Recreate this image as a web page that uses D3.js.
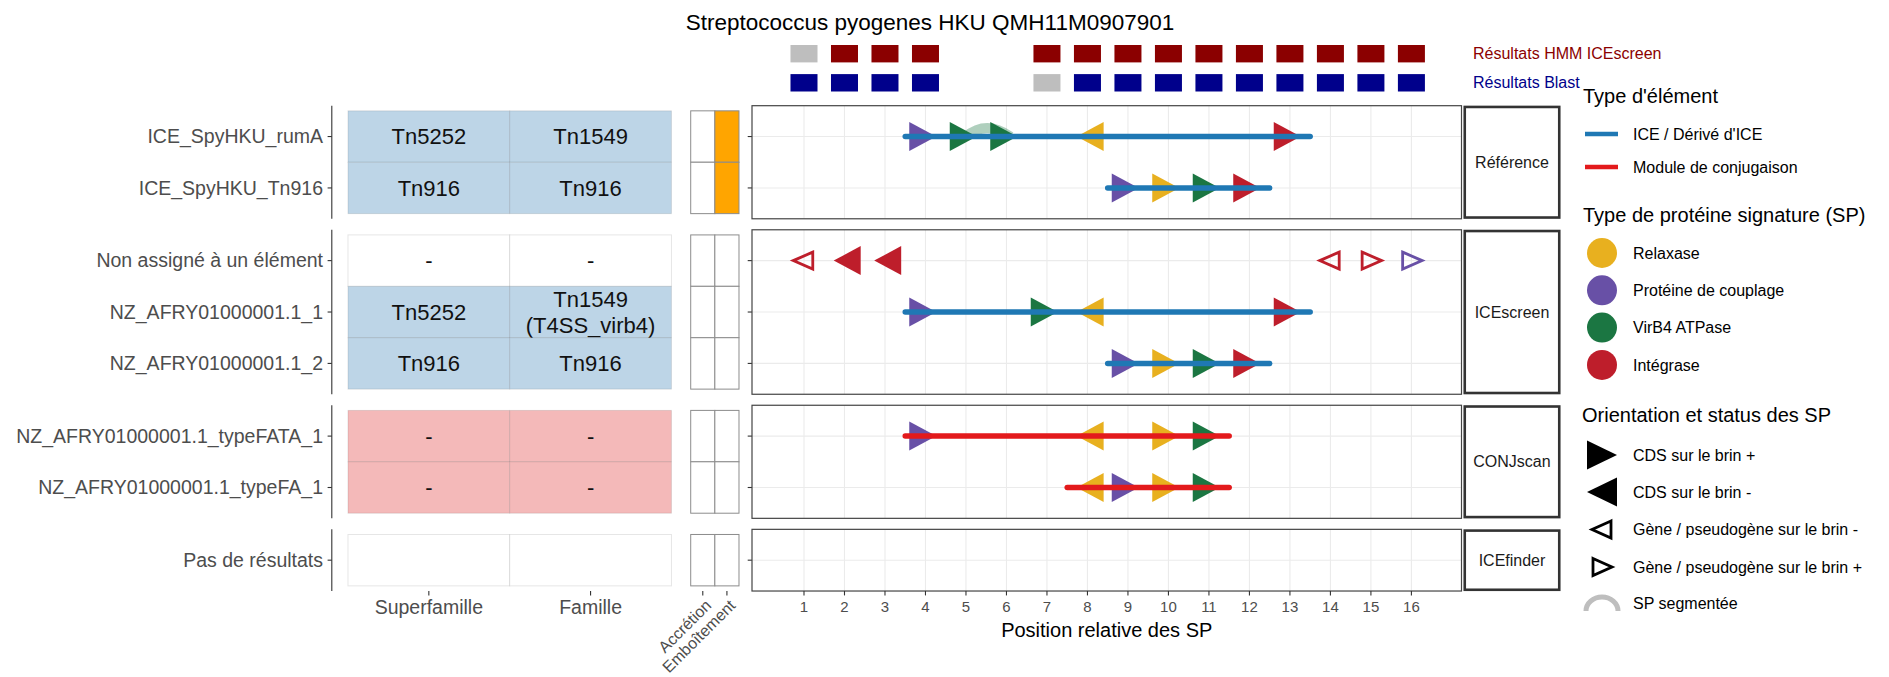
<!DOCTYPE html>
<html>
<head>
<meta charset="utf-8">
<script src="https://cdn.jsdelivr.net/npm/d3@7"></script>
<style>
  html, body { margin: 0; padding: 0; background: #ffffff; }
  svg { display: block; }
</style>
</head>
<body>
<script>
// ---------------- DATA ----------------
const chartTitle = "Streptococcus pyogenes HKU QMH11M0907901";
const facets = ["Référence", "ICEscreen", "CONJscan", "ICEfinder"];
const rowNames = ["ICE_SpyHKU_rumA", "ICE_SpyHKU_Tn916", "Non assigné à un élément",
  "NZ_AFRY01000001.1_1", "NZ_AFRY01000001.1_2",
  "NZ_AFRY01000001.1_typeFATA_1", "NZ_AFRY01000001.1_typeFA_1", "Pas de résultats"];
const rowFacet = ["Référence", "Référence", "ICEscreen", "ICEscreen", "ICEscreen",
  "CONJscan", "CONJscan", "ICEfinder"];
const rowKind = ["ref", "ref", "none", "ref", "ref", "conj", "conj", "none"];
const superfamille = ["Tn5252", "Tn916", "-", "Tn5252", "Tn916", "-", "-", ""];
const famille = ["Tn1549", "Tn916", "-", "Tn1549\n(T4SS_virb4)", "Tn916", "-", "-", ""];
const tableCols = ["Superfamille", "Famille"];
const flagCols = ["Accrétion", "Emboîtement"];
const accretion = [0, 0, 0, 0, 0, 0, 0, 0];
const emboitement = [1, 1, 0, 0, 0, 0, 0, 0];

// signature proteins
const spRow = [
  "ICE_SpyHKU_rumA", "ICE_SpyHKU_rumA", "ICE_SpyHKU_rumA", "ICE_SpyHKU_rumA", "ICE_SpyHKU_rumA",
  "ICE_SpyHKU_Tn916", "ICE_SpyHKU_Tn916", "ICE_SpyHKU_Tn916", "ICE_SpyHKU_Tn916",
  "Non assigné à un élément", "Non assigné à un élément", "Non assigné à un élément",
  "Non assigné à un élément", "Non assigné à un élément", "Non assigné à un élément",
  "NZ_AFRY01000001.1_1", "NZ_AFRY01000001.1_1", "NZ_AFRY01000001.1_1", "NZ_AFRY01000001.1_1",
  "NZ_AFRY01000001.1_2", "NZ_AFRY01000001.1_2", "NZ_AFRY01000001.1_2", "NZ_AFRY01000001.1_2",
  "NZ_AFRY01000001.1_typeFATA_1", "NZ_AFRY01000001.1_typeFATA_1", "NZ_AFRY01000001.1_typeFATA_1", "NZ_AFRY01000001.1_typeFATA_1",
  "NZ_AFRY01000001.1_typeFA_1", "NZ_AFRY01000001.1_typeFA_1", "NZ_AFRY01000001.1_typeFA_1", "NZ_AFRY01000001.1_typeFA_1"];
const spPos = [4, 5, 6, 8, 13,
  9, 10, 11, 12,
  1, 2, 3, 14, 15, 16,
  4, 7, 8, 13,
  9, 10, 11, 12,
  4, 8, 10, 11,
  8, 9, 10, 11];
const spType = ["Protéine de couplage", "VirB4 ATPase", "VirB4 ATPase", "Relaxase", "Intégrase",
  "Protéine de couplage", "Relaxase", "VirB4 ATPase", "Intégrase",
  "Intégrase", "Intégrase", "Intégrase", "Intégrase", "Intégrase", "Protéine de couplage",
  "Protéine de couplage", "VirB4 ATPase", "Relaxase", "Intégrase",
  "Protéine de couplage", "Relaxase", "VirB4 ATPase", "Intégrase",
  "Protéine de couplage", "Relaxase", "Relaxase", "VirB4 ATPase",
  "Relaxase", "Protéine de couplage", "Relaxase", "VirB4 ATPase"];
const spStrand = ["+", "+", "+", "-", "+",
  "+", "+", "+", "+",
  "-", "-", "-", "-", "+", "+",
  "+", "+", "-", "+",
  "+", "+", "+", "+",
  "+", "-", "+", "+",
  "-", "+", "+", "+"];
const spPseudo = [0, 0, 0, 0, 0,
  0, 0, 0, 0,
  1, 0, 0, 1, 1, 1,
  0, 0, 0, 0,
  0, 0, 0, 0,
  0, 0, 0, 0,
  0, 0, 0, 0];

// segmented SP
const segRow = ["ICE_SpyHKU_rumA"];
const segFrom = [5];
const segTo = [6];
const segType = ["VirB4 ATPase"];

// elements
const elRow = ["ICE_SpyHKU_rumA", "ICE_SpyHKU_Tn916", "NZ_AFRY01000001.1_1", "NZ_AFRY01000001.1_2",
  "NZ_AFRY01000001.1_typeFATA_1", "NZ_AFRY01000001.1_typeFA_1"];
const elStart = [3.5, 8.5, 3.5, 8.5, 3.5, 7.5];
const elEnd = [13.5, 12.5, 13.5, 12.5, 11.5, 11.5];
const elType = ["ICE / Dérivé d'ICE", "ICE / Dérivé d'ICE", "ICE / Dérivé d'ICE", "ICE / Dérivé d'ICE",
  "Module de conjugaison", "Module de conjugaison"];

// top results squares
const sqPos = [1, 2, 3, 4, 7, 8, 9, 10, 11, 12, 13, 14, 15, 16];
const hmmHit = [0, 1, 1, 1, 1, 1, 1, 1, 1, 1, 1, 1, 1, 1];
const blastHit = [1, 1, 1, 1, 0, 1, 1, 1, 1, 1, 1, 1, 1, 1];
const resultLabels = ["Résultats HMM ICEscreen", "Résultats Blast"];

const xTicks = [1, 2, 3, 4, 5, 6, 7, 8, 9, 10, 11, 12, 13, 14, 15, 16];
const xTitle = "Position relative des SP";

const elementTypes = ["ICE / Dérivé d'ICE", "Module de conjugaison"];
const spTypes = ["Relaxase", "Protéine de couplage", "VirB4 ATPase", "Intégrase"];
const orientLabels = ["CDS sur le brin +", "CDS sur le brin -", "Gène / pseudogène sur le brin -",
  "Gène / pseudogène sur le brin +", "SP segmentée"];
const legendTitles = ["Type d'élément", "Type de protéine signature (SP)", "Orientation et status des SP"];

// ---------------- STYLE ----------------
const elColor = d3.scaleOrdinal().domain(elementTypes).range(["#1F78B4", "#E31A1C"]);
const spColor = d3.scaleOrdinal().domain(spTypes).range(["#E8B01F", "#6850A6", "#1B7642", "#BE1E2B"]);
const kindFill = { ref: "#BDD5E7", conj: "#F4B9B9", none: "#FFFFFF" };
const FONT = "'Liberation Sans', Arial, Helvetica, sans-serif";

const W = 1889, H = 677;
const svg = d3.select("body").append("svg")
  .attr("width", W).attr("height", H)
  .style("font-family", FONT);

// scales
const x = d3.scaleLinear().domain([-0.284, 17.237]).range([752, 1461.5]);
const colX = d3.scaleBand().domain(tableCols).range([331.8, 687.6]).paddingInner(0).paddingOuter(0.1);
const flagX = d3.scaleBand().domain(flagCols).range([688.3, 741.4]).paddingInner(0).paddingOuter(0.1);

const u = 51.4, gap = 11;
let cursor = 105.7;
const yScales = {}, fTop = {}, fBot = {};
facets.forEach(f => {
  const rows = rowNames.filter((r, i) => rowFacet[i] === f);
  const h = (rows.length + 0.2) * u;
  yScales[f] = d3.scalePoint().domain(rows).range([cursor, cursor + h]).padding(0.6);
  fTop[f] = cursor; fBot[f] = cursor + h;
  cursor += h + gap;
});
const rowY = r => yScales[rowFacet[rowNames.indexOf(r)]](r);
const lastFacet = facets[facets.length - 1];
const bottomY = fBot[lastFacet];

// ---------------- TITLE ----------------
svg.append("text").attr("x", 930).attr("y", 22).attr("dy", "0.35em")
  .attr("text-anchor", "middle").attr("font-size", 22.5).attr("fill", "#000")
  .text(chartTitle);

// ---------------- TOP SQUARES ----------------
const sqW = 0.667 * (x(2) - x(1)), sqH = 17.4;
const sqRowsY = [53.7, 82.8];
const sqData = [hmmHit, blastHit];
const sqColors = ["#8B0000", "#00008B"];
sqData.forEach((hits, k) => {
  svg.append("g").selectAll("rect").data(sqPos).join("rect")
    .attr("x", d => x(d) - sqW / 2).attr("y", sqRowsY[k] - sqH / 2)
    .attr("width", sqW).attr("height", sqH)
    .attr("fill", (d, i) => hits[i] ? sqColors[k] : "#BEBEBE");
  svg.append("text").attr("x", 1473).attr("y", sqRowsY[k]).attr("dy", "0.35em")
    .attr("font-size", 16).attr("fill", sqColors[k]).text(resultLabels[k]);
});

// ---------------- TABLE (left) ----------------
const gTable = svg.append("g");
facets.forEach(f => {
  // axis line
  gTable.append("line").attr("x1", 331.8).attr("x2", 331.8)
    .attr("y1", fTop[f]).attr("y2", fBot[f]).attr("stroke", "#333").attr("stroke-width", 1.1);
});
rowNames.forEach((r, i) => {
  const yc = rowY(r);
  gTable.append("line").attr("x1", 327.6).attr("x2", 331.8).attr("y1", yc).attr("y2", yc)
    .attr("stroke", "#333").attr("stroke-width", 1.1);
  gTable.append("text").attr("x", 323).attr("y", yc).attr("dy", "0.35em")
    .attr("text-anchor", "end").attr("font-size", 19.5).attr("fill", "#4D4D4D").text(r);
  const vals = [superfamille[i], famille[i]];
  tableCols.forEach((c, j) => {
    gTable.append("rect").attr("x", colX(c)).attr("y", yc - u / 2)
      .attr("width", colX.bandwidth()).attr("height", u)
      .attr("fill", kindFill[rowKind[i]]).attr("stroke", "rgba(0,0,0,0.1)").attr("stroke-width", 1);
  });
  tableCols.forEach((c, j) => {
    const lines = vals[j].split("\n");
    const t = gTable.append("text").attr("text-anchor", "middle").attr("font-size", 22)
      .attr("fill", "#111");
    lines.forEach((ln, k) => {
      t.append("tspan").attr("x", colX(c) + colX.bandwidth() / 2)
        .attr("y", yc + (k - (lines.length - 1) / 2) * 25.7).attr("dy", "0.35em").text(ln);
    });
  });
  // flags
  const flags = [accretion[i], emboitement[i]];
  flagCols.forEach((c, j) => {
    gTable.append("rect").attr("x", flagX(c)).attr("y", yc - u / 2)
      .attr("width", flagX.bandwidth()).attr("height", u)
      .attr("fill", flags[j] ? "#FFA500" : "#FFFFFF").attr("stroke", "#8C8C8C").attr("stroke-width", 1);
  });
});
// table x axis
tableCols.forEach(c => {
  const cx = colX(c) + colX.bandwidth() / 2;
  gTable.append("line").attr("x1", cx).attr("x2", cx).attr("y1", bottomY).attr("y2", bottomY + 4.4)
    .attr("stroke", "#333").attr("stroke-width", 1.1);
  gTable.append("text").attr("x", cx).attr("y", 607).attr("dy", "0.35em")
    .attr("text-anchor", "middle").attr("font-size", 19.5).attr("fill", "#4D4D4D").text(c);
});
flagCols.forEach(c => {
  const cx = flagX(c) + flagX.bandwidth() / 2;
  gTable.append("line").attr("x1", cx).attr("x2", cx).attr("y1", bottomY).attr("y2", bottomY + 4.4)
    .attr("stroke", "#333").attr("stroke-width", 1.1);
  gTable.append("text").attr("transform", `translate(${cx + 1},${bottomY + 7}) rotate(-45)`)
    .attr("text-anchor", "end").attr("dy", "0.75em").attr("font-size", 16).attr("fill", "#4D4D4D").text(c);
});

// ---------------- MAIN PANELS ----------------
const gMain = svg.append("g");
facets.forEach(f => {
  const ys = yScales[f];
  const g = gMain.append("g");
  g.append("rect").attr("x", x.range()[0]).attr("y", fTop[f])
    .attr("width", x.range()[1] - x.range()[0]).attr("height", fBot[f] - fTop[f]).attr("fill", "#fff");
  g.selectAll("line.vg").data(xTicks).join("line")
    .attr("x1", d => x(d)).attr("x2", d => x(d)).attr("y1", fTop[f]).attr("y2", fBot[f])
    .attr("stroke", "#EBEBEB").attr("stroke-width", 1.1);
  g.selectAll("line.hg").data(ys.domain()).join("line")
    .attr("x1", x.range()[0]).attr("x2", x.range()[1]).attr("y1", d => ys(d)).attr("y2", d => ys(d))
    .attr("stroke", "#EBEBEB").attr("stroke-width", 1.1);
  // y ticks
  g.selectAll("line.yt").data(ys.domain()).join("line")
    .attr("x1", x.range()[0] - 4.3).attr("x2", x.range()[0]).attr("y1", d => ys(d)).attr("y2", d => ys(d))
    .attr("stroke", "#333").attr("stroke-width", 1.1);
  // strip
  g.append("rect").attr("x", 1464.75).attr("y", fTop[f] + 1.25).attr("width", 94.5)
    .attr("height", fBot[f] - fTop[f] - 2.5).attr("fill", "#fff")
    .attr("stroke", "#333").attr("stroke-width", 2.6);
  g.append("text").attr("x", 1512).attr("y", (fTop[f] + fBot[f]) / 2).attr("dy", "0.35em")
    .attr("text-anchor", "middle").attr("font-size", 16).attr("fill", "#1A1A1A").text(f);
});

// segmented arcs
const gArc = gMain.append("g");
segRow.forEach((r, i) => {
  const yc = rowY(r), x0 = x(segFrom[i]), x1 = x(segTo[i]);
  gArc.append("path")
    .attr("d", `M${x0},${yc} Q${(x0 + x1) / 2},${yc - 17} ${x1 + 4},${yc}`)
    .attr("fill", "none").attr("stroke", spColor(segType[i])).attr("stroke-opacity", 0.35)
    .attr("stroke-width", 10);
});

// triangles
function triFilled(dir, w, h) {
  // point located at 60% from base to tip
  const b = -0.6 * w * dir, t = 0.4 * w * dir;
  return `M${b},${-h / 2} L${t},0 L${b},${h / 2} Z`;
}
function triOpen(dir, w, h) {
  const b = -0.45 * w * dir, t = 0.55 * w * dir;
  return `M${b},${-h / 2} L${t},0 L${b},${h / 2} Z`;
}
const gSP = gMain.append("g");
spPos.forEach((p, i) => {
  const dir = spStrand[i] === "+" ? 1 : -1;
  const col = spColor(spType[i]);
  const path = gSP.append("path")
    .attr("transform", `translate(${x(p)},${rowY(spRow[i])})`);
  if (spPseudo[i]) {
    path.attr("d", triOpen(dir, 19.5, 17)).attr("fill", "none").attr("stroke", col)
      .attr("stroke-width", 2.8).attr("stroke-linejoin", "miter");
  } else {
    path.attr("d", triFilled(dir, 27, 29)).attr("fill", col);
  }
});

// element segments (on top)
const gEl = gMain.append("g");
elRow.forEach((r, i) => {
  const yc = rowY(r);
  gEl.append("line").attr("x1", x(elStart[i])).attr("x2", x(elEnd[i]))
    .attr("y1", yc).attr("y2", yc).attr("stroke", elColor(elType[i]))
    .attr("stroke-width", 5.5).attr("stroke-linecap", "round");
});

// panel borders
facets.forEach(f => {
  gMain.append("rect").attr("x", x.range()[0]).attr("y", fTop[f])
    .attr("width", x.range()[1] - x.range()[0]).attr("height", fBot[f] - fTop[f])
    .attr("fill", "none").attr("stroke", "#444").attr("stroke-width", 1.2);
});

// x axis
const gX = svg.append("g");
gX.selectAll("line").data(xTicks).join("line")
  .attr("x1", d => x(d)).attr("x2", d => x(d)).attr("y1", bottomY).attr("y2", bottomY + 4.4)
  .attr("stroke", "#333").attr("stroke-width", 1.1);
gX.selectAll("text").data(xTicks).join("text")
  .attr("x", d => x(d)).attr("y", 607).attr("dy", "0.35em").attr("text-anchor", "middle")
  .attr("font-size", 15).attr("fill", "#4D4D4D").text(d => d);
svg.append("text").attr("x", (x.range()[0] + x.range()[1]) / 2).attr("y", 630).attr("dy", "0.35em")
  .attr("text-anchor", "middle").attr("font-size", 20).attr("fill", "#000").text(xTitle);

// ---------------- LEGEND ----------------
const gL = svg.append("g");
const LX = 1583, KX = 1602, TX = 1633;
gL.append("text").attr("x", LX).attr("y", 96).attr("dy", "0.35em").attr("font-size", 20).text(legendTitles[0]);
elementTypes.forEach((e, i) => {
  const yc = 134 + i * 33;
  gL.append("line").attr("x1", 1585).attr("x2", 1618).attr("y1", yc).attr("y2", yc)
    .attr("stroke", elColor(e)).attr("stroke-width", 4.5);
  gL.append("text").attr("x", TX).attr("y", yc).attr("dy", "0.35em").attr("font-size", 16)
    .attr("fill", "#000").text(e);
});
gL.append("text").attr("x", LX).attr("y", 215).attr("dy", "0.35em").attr("font-size", 20).text(legendTitles[1]);
spTypes.forEach((s, i) => {
  const yc = 253 + i * 37.3;
  gL.append("circle").attr("cx", KX).attr("cy", yc).attr("r", 15).attr("fill", spColor(s));
  gL.append("text").attr("x", TX).attr("y", yc).attr("dy", "0.35em").attr("font-size", 16)
    .attr("fill", "#000").text(s);
});
gL.append("text").attr("x", LX - 1).attr("y", 415).attr("dy", "0.35em").attr("font-size", 20).text(legendTitles[2]);
const oy = [455, 492, 529.5, 567, 603];
const triW = 30, triH = 29;
gL.append("path").attr("transform", `translate(${KX},${oy[0]})`)
  .attr("d", `M${-triW / 2},${-triH / 2} L${triW / 2},0 L${-triW / 2},${triH / 2} Z`).attr("fill", "#000");
gL.append("path").attr("transform", `translate(${KX},${oy[1]})`)
  .attr("d", `M${triW / 2},${-triH / 2} L${-triW / 2},0 L${triW / 2},${triH / 2} Z`).attr("fill", "#000");
gL.append("path").attr("transform", `translate(${KX},${oy[2]})`)
  .attr("d", `M${9},${-8.5} L${-10},0 L${9},${8.5} Z`).attr("fill", "none").attr("stroke", "#000").attr("stroke-width", 2.8);
gL.append("path").attr("transform", `translate(${KX},${oy[3]})`)
  .attr("d", `M${-9},${-8.5} L${10},0 L${-9},${8.5} Z`).attr("fill", "none").attr("stroke", "#000").attr("stroke-width", 2.8);
gL.append("path").attr("d", `M1586,${oy[4] + 8} A16,14 0 0 1 1618,${oy[4] + 8}`)
  .attr("fill", "none").attr("stroke", "#BEBEBE").attr("stroke-width", 5);
orientLabels.forEach((o, i) => {
  gL.append("text").attr("x", TX).attr("y", oy[i]).attr("dy", "0.35em").attr("font-size", 16)
    .attr("fill", "#000").text(o);
});
</script>
</body>
</html>
